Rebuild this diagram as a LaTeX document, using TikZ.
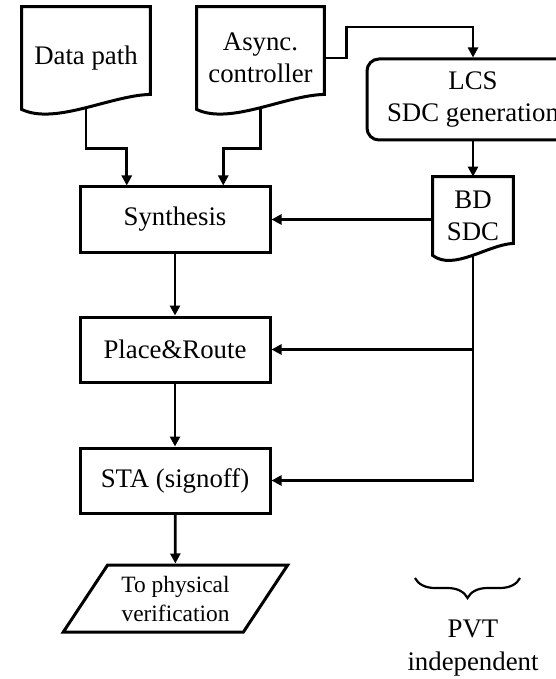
\documentclass[tikz,border=0pt]{standalone}
\usepackage{fontspec}
\setmainfont{Liberation Serif}
\usetikzlibrary{arrows.meta,calc,shapes.geometric,decorations.pathreplacing}
% outline of a document node: flat top, wavy bottom (#2 = rise at the right end)
\newcommand {\docshape}[2] {\draw[boxline] (#1.south west) -- (#1.north west) -- (#1.north east)
                              -- ($(#1.south east)+(0,-#2)$)
                              .. controls ($(#1.south west)!0.69!(#1.south east)+(0,-#2+1)$)
                              and ($(#1.south west)!0.26!(#1.south east)+(0,16)$) .. (#1.south west) -- cycle;}
\tikzset{
  boxline/.style={line width=1.5pt, line join=miter},
  flowbox/.style={draw, boxline, minimum width=95pt, minimum height=32.5pt},
  docnode/.style={align=center, inner sep=0pt},
  link/.style={line width=1.4pt, -{Triangle[length=5pt,width=5pt]}}
}
\begin{document}
\begin{tikzpicture}[x=0.5pt, y=-0.5pt, every node/.style={font=\fontsize{13.4}{16.2}\selectfont}]
    \useasboundingbox (0,0) rectangle (556,679);
    \node[docnode, minimum width=64pt, minimum height=51pt] (dpath) at (86,58) {Data path};
    \node[docnode, minimum width=63.5pt, minimum height=51pt] (actrl) at (260.5,58) {Async.\\controller};
    \node[draw, boxline, rounded corners=6pt, minimum width=106pt, minimum height=40.5pt, align=center] (lcs) at (473,99.5) {LCS\\SDC generation};
    \node[docnode, minimum width=40pt, minimum height=39pt] (bdsdc) at (473,216) {BD\\SDC};
    \docshape{dpath}{15}
    \docshape{actrl}{15}
    \docshape{bdsdc}{12}
    \node[flowbox] (synth) at (175,219.5) {Synthesis};
    \node[flowbox] (pnr) at (175,349.5) {Place\&Route};
    \node[flowbox] (sta) at (175,480.5) {STA (signoff)};
    \node[trapezium, draw, boxline, trapezium left angle=56, trapezium right angle=124,
          trapezium stretches=true, minimum width=113pt, minimum height=33.5pt, align=center,
          font=\fontsize{11.7}{14.5}\selectfont] (phys) at (175.5,598.5) {To physical\\verification};
    \coordinate (synin1) at ($(synth.north west)!0.25!(synth.north east)$);
    \coordinate (synin2) at ($(synth.north west)!0.75!(synth.north east)$);
    \draw[link] (dpath.south) -- ++(0,39) -| (synin1);
    \draw[link] (actrl.south) -- ++(0,39) -| (synin2);
    \draw[link] (actrl.east) -- ++(22,0) coordinate (bend) -- (bend |- 0,27) -| (lcs.north);
    \draw[link] (lcs.south) -- (bdsdc.north);
    \draw[link] (synth.east -| bdsdc.west) -- (synth.east);
    \draw[link] (bdsdc.south) |- (sta.east);
    \draw[link] (bdsdc.south |- pnr.east) -- (pnr.east);
    \draw[link] (synth) -- (pnr);
    \draw[link] (pnr) -- (sta);
    \draw[link] (sta) -- (phys);
    \coordinate (brl) at (415,578);
    \coordinate (brr) at (520,578);
    \draw[line width=1.1pt, decorate, decoration={brace, mirror, amplitude=10pt}] (brl) -- (brr);
    \node[align=center] (pvt) at (473,648) {PVT\\independent};
\end{tikzpicture}
\end{document}
